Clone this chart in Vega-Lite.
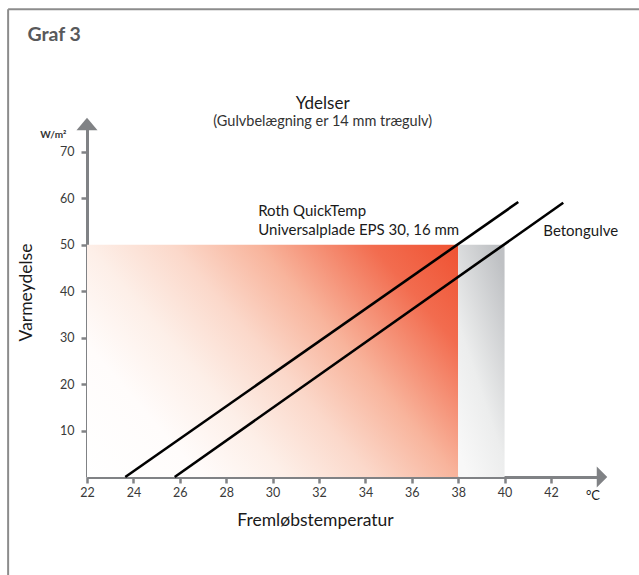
{
  "$schema": "https://vega.github.io/schema/vega-lite/v6.json",
  "width": 515,
  "height": 353,
  "autosize": "none",
  "padding": {"left": 87, "top": 124, "right": 37, "bottom": 98},
  "background": "white",
  "config": {
    "view": {"stroke": null},
    "font": "Lato",
    "axis": {
      "domainColor": "#808285",
      "domainWidth": 3,
      "tickColor": "#808285",
      "tickWidth": 2.5,
      "tickSize": 6,
      "grid": false,
      "labelFlush": false,
      "labelFont": "Lato",
      "labelFontSize": 12.5,
      "labelColor": "#3a3a3a",
      "titleFont": "Lato",
      "titleFontSize": 17.5,
      "titleFontWeight": "normal",
      "titleColor": "#1a1a1a"
    }
  },
  "datasets": {
    "lines": [
      {"serie": "Roth QuickTemp Universalplade EPS 30, 16 mm", "temp": 23.65, "ydelse": 0},
      {"serie": "Roth QuickTemp Universalplade EPS 30, 16 mm", "temp": 40.59, "ydelse": 59.2},
      {"serie": "Betongulve", "temp": 25.78, "ydelse": 0},
      {"serie": "Betongulve", "temp": 42.53, "ydelse": 59.05}
    ],
    "red": [{"from": 22, "to": 38, "low": 0, "high": 50}],
    "grey": [{"from": 38, "to": 40, "low": 0, "high": 50}]
  },
  "layer": [
    {
      "data": {"name": "red"},
      "mark": {
        "type": "rect",
        "color": {
          "gradient": "linear",
          "x1": 0, "y1": 1, "x2": 1.19, "y2": 0.36,
          "stops": [
            {"offset": 0, "color": "#ffffff"},
            {"offset": 0.2, "color": "#fffcfb"},
            {"offset": 0.35, "color": "#fdefe8"},
            {"offset": 0.5, "color": "#fbd8ca"},
            {"offset": 0.65, "color": "#f8b49c"},
            {"offset": 0.85, "color": "#f26c4f"},
            {"offset": 1, "color": "#ef5232"}
          ]
        }
      },
      "encoding": {
        "x": {"field": "from", "type": "quantitative", "scale": {"domain": [22, 44.2], "nice": false, "zero": false},
          "axis": {"values": [22, 24, 26, 28, 30, 32, 34, 36, 38, 40, 42], "labelPadding": 3, "title": "Fremløbstemperatur", "titleX": 228, "titleY": 43, "titleBaseline": "middle", "titleAlign": "center"}},
        "x2": {"field": "to"},
        "y": {"field": "low", "type": "quantitative", "scale": {"domain": [0, 76], "nice": false, "zero": false},
          "axis": {"values": [10, 20, 30, 40, 50, 60, 70], "labelPadding": 7, "title": "Varmeydelse", "titleX": -61, "titleY": 168, "titleBaseline": "middle", "titleAlign": "center", "titleAngle": -90}},
        "y2": {"field": "high"}
      }
    },
    {
      "data": {"name": "grey"},
      "mark": {
        "type": "rect",
        "color": {
          "gradient": "linear",
          "x1": 0.2, "y1": 1, "x2": 0.8, "y2": 0,
          "stops": [
            {"offset": 0, "color": "#f8f8f8"},
            {"offset": 0.4, "color": "#eceded"},
            {"offset": 1, "color": "#bfc1c4"}
          ]
        }
      },
      "encoding": {
        "x": {"field": "from", "type": "quantitative"},
        "x2": {"field": "to"},
        "y": {"field": "low", "type": "quantitative"},
        "y2": {"field": "high"}
      }
    },
    {
      "data": {"name": "lines"},
      "mark": {"type": "line", "color": "#000000", "strokeWidth": 2.6},
      "encoding": {
        "x": {"field": "temp", "type": "quantitative"},
        "y": {"field": "ydelse", "type": "quantitative"},
        "detail": {"field": "serie"}
      }
    },
    {
      "data": {"values": [{}]},
      "mark": {"type": "point", "shape": "M -0.5 -1 L 0.5 0 L -0.5 1 Z", "size": 441, "filled": true, "color": "#808285", "opacity": 1, "strokeWidth": 0},
      "encoding": {"x": {"datum": 44.2}, "y": {"datum": 0}}
    },
    {
      "data": {"values": [{}]},
      "mark": {"type": "point", "shape": "M -1 0.6 L 0 -0.6 L 1 0.6 Z", "size": 441, "filled": true, "color": "#808285", "opacity": 1, "strokeWidth": 0},
      "encoding": {"x": {"datum": 22}, "y": {"datum": 76}}
    },
    {
      "data": {"values": [{}]},
      "mark": {"type": "rule", "color": "#8c8c8c", "strokeWidth": 2},
      "encoding": {"x": {"datum": 18.6}, "x2": {"datum": 47}, "y": {"datum": 100.7}}
    },
    {
      "data": {"values": [{}]},
      "mark": {"type": "rule", "color": "#8c8c8c", "strokeWidth": 2},
      "encoding": {"x": {"datum": 18.6}, "y": {"datum": 100.7}, "y2": {"datum": -25}}
    },
    {
      "data": {"values": [{}]},
      "mark": {"type": "text", "text": "Graf 3", "font": "Lato", "fontSize": 19.5, "fontWeight": "bold", "color": "#58595b", "align": "left", "baseline": "alphabetic"},
      "encoding": {"x": {"datum": 19.43}, "y": {"datum": 93.86}}
    },
    {
      "data": {"values": [{}]},
      "mark": {"type": "text", "text": "Ydelser", "font": "Lato", "fontSize": 17, "color": "#1a1a1a", "align": "center", "baseline": "alphabetic"},
      "encoding": {"x": {"datum": 32.16}, "y": {"datum": 79.2}}
    },
    {
      "data": {"values": [{}]},
      "mark": {"type": "text", "text": "(Gulvbelægning er 14 mm trægulv)", "font": "Lato", "fontSize": 14.5, "color": "#333333", "align": "center", "baseline": "alphabetic"},
      "encoding": {"x": {"datum": 32.16}, "y": {"datum": 75.57}}
    },
    {
      "data": {"values": [{}]},
      "mark": {"type": "text", "text": "W/m²", "font": "Lato", "fontSize": 10, "fontWeight": "bold", "color": "#333333", "align": "right", "baseline": "alphabetic"},
      "encoding": {"x": {"datum": 21.11}, "y": {"datum": 72.98}}
    },
    {
      "data": {"values": [{}]},
      "mark": {"type": "text", "text": "°C", "font": "Lato", "fontSize": 13, "color": "#1a1a1a", "align": "center", "baseline": "alphabetic"},
      "encoding": {"x": {"datum": 43.81}, "y": {"datum": -4.95}}
    },
    {
      "data": {"values": [{}]},
      "mark": {"type": "text", "text": ["Roth QuickTemp", "Universalplade EPS 30, 16 mm"], "lineHeight": 19, "font": "Lato", "fontSize": 15, "color": "#1a1a1a", "align": "left", "baseline": "alphabetic"},
      "encoding": {"x": {"datum": 29.38}, "y": {"datum": 56.19}}
    },
    {
      "data": {"values": [{}]},
      "mark": {"type": "text", "text": "Betongulve", "font": "Lato", "fontSize": 15, "color": "#1a1a1a", "align": "left", "baseline": "alphabetic"},
      "encoding": {"x": {"datum": 41.67}, "y": {"datum": 51.88}}
    }
  ]
}
